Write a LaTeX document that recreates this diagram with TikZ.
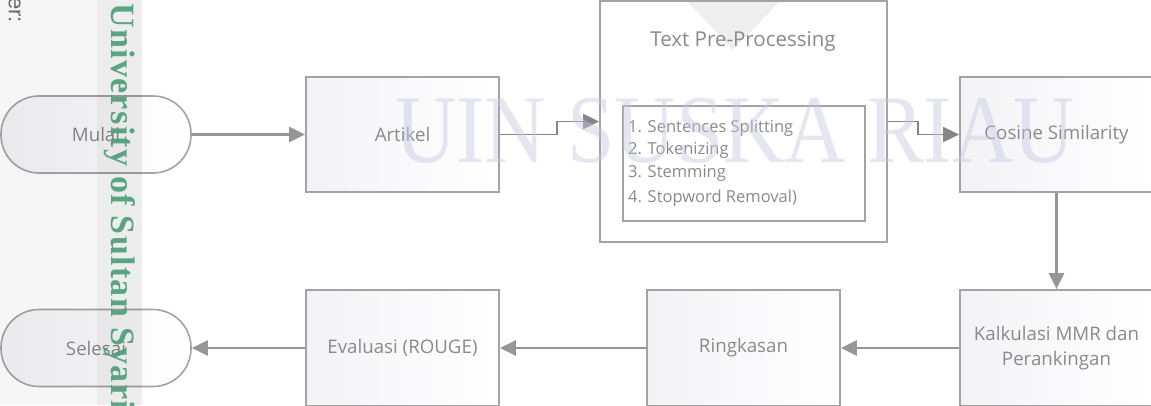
\documentclass[tikz,border=0pt]{standalone}
\usepackage{fontspec}
\setmainfont{Open Sans}
\newfontfamily\wmserif{Liberation Serif}
\newfontfamily\wmserifsp[LetterSpace=4]{Liberation Serif}
\newfontfamily\wmsans{Liberation Sans}
\usetikzlibrary{arrows.meta}
\definecolor{bordergray}{HTML}{A3A3A3}
\definecolor{linegray}{HTML}{969696}
\definecolor{elbowgray}{HTML}{858585}
\definecolor{txtgray}{HTML}{8A8A8A}
\definecolor{wmviolet}{HTML}{C8C8E2}
\definecolor{wmgreen}{HTML}{4A9E78}
\definecolor{boxfill}{HTML}{F3F3F7}
\definecolor{trigray}{HTML}{EEEEEE}
\begin{document}
\begin{tikzpicture}[x=1pt,y=-1pt,
  lbl/.style={text=txtgray, font=\fontsize{18.7}{25}\selectfont, align=center, inner sep=0pt},
  box/.style={draw=bordergray, line width=1.8pt, left color=boxfill, right color=white,
    minimum width=193pt, minimum height=115pt, inner sep=0pt, lbl},
  lowbox/.style={box, minimum height=116pt},
  term/.style={draw=bordergray, line width=1.6pt, rounded corners=38pt, left color=boxfill, right color=white,
    minimum width=190pt, minimum height=77pt, inner sep=0pt, lbl},
  plainbox/.style={draw=bordergray, line width=1.8pt, fill=white, inner sep=0pt},
  item/.style={anchor=base west, text=txtgray, font=\fontsize{16.5}{20}\selectfont, inner sep=0pt},
  arr/.style={draw=linegray, line width=2.4pt, -{Triangle[length=16pt,width=15pt]}},
  elbow/.style={draw=elbowgray, line width=1.8pt, -{Triangle[length=16pt,width=15pt]}}
]
\useasboundingbox (0,0) rectangle (1151,405);
\clip (0,0) rectangle (1151,405);
\fill[white] (0,0) rectangle (1151,405);

% nodes
\node[term] (mulai) at (96,134.5) {Mulai};
\node[box] (artikel) at (402.5,134.5) {Artikel};
\node[plainbox, minimum width=287pt, minimum height=241pt] (tpp) at (743.5,121.5) {};
\fill[trigray] (688,2) -- (779,2) -- (733,50) -- cycle;
\node[lbl, font=\fontsize{20.5}{24}\selectfont] (tpptitle) at (743,41) {Text Pre-Processing};
\node[plainbox, minimum width=242pt, minimum height=115pt] (inner) at (744,163.5) {};
\node[item] (i1) at (628,132) {1. Sentences Splitting};
\node[item] (i2) at (628,154) {2. Tokenizing};
\node[item] (i3) at (628,177) {3. Stemming};
\node[item] (i4) at (628,202) {4. Stopword Removal)};
\node[box] (cosine) at (1056.5,134.5) {Cosine Similarity};
\node[lowbox] (kalk) at (1056.5,348) {Kalkulasi MMR dan\\Perankingan};
\node[lowbox] (ringkas) at (743.5,348) {Ringkasan};
\node[lowbox] (eval) at (402.5,348) {Evaluasi (ROUGE)};
\node[term] (selesai) at (96,348) {Selesai};

% connectors
\draw[arr] (mulai.east) -- (artikel.west);
\draw[elbow] (artikel.east) -- ++(57,0) |- (tpp.west);
\draw[elbow] (tpp.east) -- ++(30,0) |- (cosine.west);
\draw[arr] (cosine.south) -- (kalk.north);
\draw[arr] (kalk.west) -- (ringkas.east);
\draw[arr] (ringkas.west) -- (eval.east);
\draw[arr] (eval.west) -- (selesai.east);

% watermarks
\fill[black, opacity=0.035] (0,0) rectangle (142,405);
\fill[black, opacity=0.035] (97,0) rectangle (142,405);
\node[anchor=base west, inner sep=0pt, text=wmviolet, text opacity=0.45,
  font=\wmserif\fontsize{97}{97}\selectfont] (wm) at (395,162) {\scalebox{0.876}[1]{UIN SUSKA RIAU}};
\node[anchor=base west, inner sep=0pt, rotate=-90, text=wmgreen, text opacity=0.9,
  font=\wmserifsp\bfseries\fontsize{34}{34}\selectfont] (wmuni) at (111,3) {University of Sultan Syarif Kasim Riau};
\node[anchor=base east, inner sep=0pt, rotate=-90, text=black!60,
  font=\wmsans\fontsize{22}{22}\selectfont] (wmer) at (9,23) {er:};
\end{tikzpicture}
\end{document}
